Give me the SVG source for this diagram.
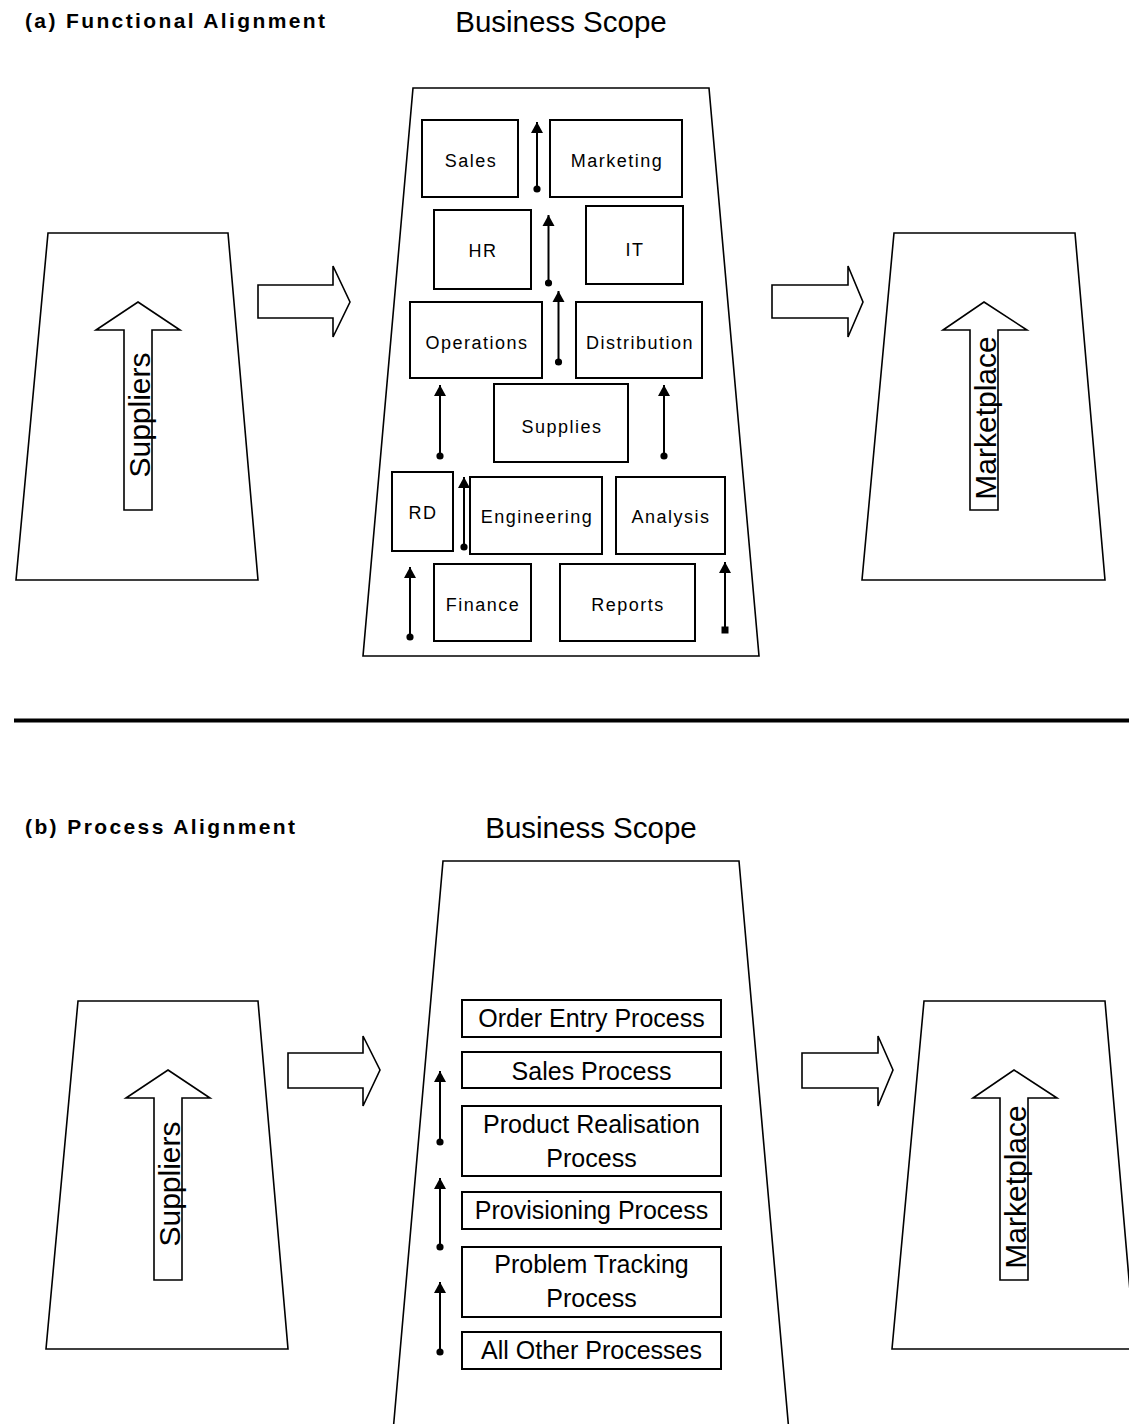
<svg xmlns="http://www.w3.org/2000/svg" width="1129" height="1424" viewBox="0 0 1129 1424">
<defs>
<style>
.bg{fill:#fff}
.shape{fill:#fff;stroke:#000;stroke-width:1.6;stroke-linejoin:miter}
.box{fill:#fff;stroke:#000;stroke-width:2}
.hdr{font-family:"Liberation Sans",Arial,sans-serif;font-weight:bold;font-size:21px;fill:#000}
.scope{font-family:"Liberation Sans",Arial,sans-serif;font-size:29.5px;fill:#000;text-anchor:middle}
.vert{font-family:"Liberation Sans",Arial,sans-serif;font-size:30px;fill:#000;text-anchor:middle}
.lbl{font-family:"Liberation Sans",Arial,sans-serif;font-size:18px;letter-spacing:1.5px;fill:#000;text-anchor:middle}
.plbl{font-family:"Liberation Sans",Arial,sans-serif;font-size:25px;fill:#000;text-anchor:middle}
.conn{stroke:#000;stroke-width:2;fill:none;marker-end:url(#head);marker-start:url(#dot)}
.conn.sq{marker-start:url(#sq)}
</style>
<marker id="head" markerUnits="userSpaceOnUse" markerWidth="12" markerHeight="13" refX="11" refY="6" orient="auto" viewBox="0 0 12 12">
<path d="M0,0 L11,6 L0,12 Z" fill="#000"/>
</marker>
<marker id="dot" markerUnits="userSpaceOnUse" markerWidth="8" markerHeight="8" refX="4" refY="4" orient="auto" viewBox="0 0 8 8">
<circle cx="4" cy="4" r="3.6" fill="#000"/>
</marker>
<marker id="sq" markerUnits="userSpaceOnUse" markerWidth="8" markerHeight="8" refX="4" refY="4" orient="auto" viewBox="0 0 8 8">
<rect x="0.5" y="0.5" width="7" height="7" fill="#000"/>
</marker>
</defs>
<rect class="bg" x="0" y="0" width="1129" height="1424"/>

<!-- (a) Functional Alignment -->
<g id="title-a">
<text class="hdr" x="25" y="28" textLength="300" lengthAdjust="spacing">(a) Functional Alignment</text>
<text class="scope" x="561" y="32">Business Scope</text>
</g>

<g id="suppliers-a">
<polygon class="shape" points="48,233 228,233 258,580 16,580"/>
<polygon class="shape" points="138,302 180,330 152,330 152,510 124,510 124,330 96,330"/>
<text class="vert" transform="translate(150,415) rotate(-90)">Suppliers</text>
</g>

<g id="flow-a1">
<polygon class="shape" points="258,285 333,285 333,266 350,302 333,337 333,318 258,318"/>
</g>

<g id="scope-a">
<polygon class="shape" points="413,88 709,88 759,656 363,656"/>
</g>

<g id="n-sales"><rect class="box" x="422" y="120" width="96" height="77"/><text class="lbl" x="471" y="167">Sales</text></g>
<g id="n-marketing"><rect class="box" x="550" y="120" width="132" height="77"/><text class="lbl" x="617" y="167">Marketing</text></g>
<g id="n-hr"><rect class="box" x="434" y="210" width="97" height="79"/><text class="lbl" x="483" y="257" letter-spacing="3">HR</text></g>
<g id="n-it"><rect class="box" x="586" y="206" width="97" height="78"/><text class="lbl" x="635" y="256">IT</text></g>
<g id="n-operations"><rect class="box" x="410" y="302" width="132" height="76"/><text class="lbl" x="477" y="349">Operations</text></g>
<g id="n-distribution"><rect class="box" x="576" y="302" width="126" height="76"/><text class="lbl" x="640" y="349">Distribution</text></g>
<g id="n-supplies"><rect class="box" x="494" y="384" width="134" height="78"/><text class="lbl" x="562" y="433">Supplies</text></g>
<g id="n-rd"><rect class="box" x="392" y="472" width="61" height="79"/><text class="lbl" x="423" y="519" letter-spacing="3">RD</text></g>
<g id="n-engineering"><rect class="box" x="470" y="477" width="132" height="77"/><text class="lbl" x="537" y="523">Engineering</text></g>
<g id="n-analysis"><rect class="box" x="616" y="477" width="109" height="77"/><text class="lbl" x="671" y="523">Analysis</text></g>
<g id="n-finance"><rect class="box" x="434" y="564" width="97" height="77"/><text class="lbl" x="483" y="611">Finance</text></g>
<g id="n-reports"><rect class="box" x="560" y="564" width="135" height="77"/><text class="lbl" x="628" y="611">Reports</text></g>

<g id="flow-a2">
<polygon class="shape" points="772,285 848,285 848,266 863,302 848,337 848,318 772,318"/>
</g>

<g id="marketplace-a">
<polygon class="shape" points="894,233 1075,233 1105,580 862,580"/>
<polygon class="shape" points="984,302 1027,330 998,330 998,510 970,510 970,330 943,330"/>
<text class="vert" transform="translate(996,418) rotate(-90)">Marketplace</text>
</g>

<g id="divider">
<line x1="14" y1="720.5" x2="1129" y2="720.5" stroke="#000" stroke-width="4"/>
</g>

<!-- (b) Process Alignment -->
<g id="title-b">
<text class="hdr" x="25" y="834" textLength="270" lengthAdjust="spacing">(b) Process Alignment</text>
<text class="scope" x="591" y="838">Business Scope</text>
</g>

<g id="suppliers-b">
<polygon class="shape" points="78,1001 258,1001 288,1349 46,1349"/>
<polygon class="shape" points="168,1070 210,1098 182,1098 182,1280 154,1280 154,1098 126,1098"/>
<text class="vert" transform="translate(180,1184) rotate(-90)">Suppliers</text>
</g>

<g id="flow-b1">
<polygon class="shape" points="288,1053 363,1053 363,1036 380,1070 363,1106 363,1088 288,1088"/>
</g>

<g id="scope-b">
<polygon class="shape" points="443,861 739,861 789,1432 393,1432"/>
</g>

<g id="p-order"><rect class="box" x="462" y="1000" width="259" height="37"/><text class="plbl" x="591.5" y="1027">Order Entry Process</text></g>
<g id="p-sales"><rect class="box" x="462" y="1052" width="259" height="36"/><text class="plbl" x="591.5" y="1080">Sales Process</text></g>
<g id="p-product"><rect class="box" x="462" y="1106" width="259" height="70"/><text class="plbl" x="591.5" y="1133">Product Realisation</text><text class="plbl" x="591.5" y="1167">Process</text></g>
<g id="p-provisioning"><rect class="box" x="462" y="1192" width="259" height="37"/><text class="plbl" x="591.5" y="1219">Provisioning Process</text></g>
<g id="p-problem"><rect class="box" x="462" y="1247" width="259" height="70"/><text class="plbl" x="591.5" y="1273">Problem Tracking</text><text class="plbl" x="591.5" y="1307">Process</text></g>
<g id="p-other"><rect class="box" x="462" y="1332" width="259" height="37"/><text class="plbl" x="591.5" y="1359">All Other Processes</text></g>

<g id="flow-b2">
<polygon class="shape" points="802,1053 878,1053 878,1036 893,1070 878,1106 878,1088 802,1088"/>
</g>

<g id="marketplace-b">
<polygon class="shape" points="924,1001 1105,1001 1135,1349 892,1349"/>
<polygon class="shape" points="1014,1070 1057,1098 1028,1098 1028,1280 1000,1280 1000,1098 973,1098"/>
<text class="vert" transform="translate(1026,1187) rotate(-90)">Marketplace</text>
</g>

<g id="connectors">
<line class="conn" x1="537" y1="189" x2="537" y2="122"/>
<line class="conn" x1="548.5" y1="283" x2="548.5" y2="215"/>
<line class="conn" x1="558.5" y1="362" x2="558.5" y2="291"/>
<line class="conn" x1="440" y1="456" x2="440" y2="385"/>
<line class="conn" x1="664" y1="456" x2="664" y2="385"/>
<line class="conn" x1="464" y1="547" x2="464" y2="477"/>
<line class="conn" x1="410" y1="637" x2="410" y2="567"/>
<line class="conn sq" x1="725" y1="630" x2="725" y2="562"/>
<line class="conn" x1="440" y1="1142" x2="440" y2="1071"/>
<line class="conn" x1="440" y1="1247" x2="440" y2="1178"/>
<line class="conn" x1="440" y1="1352" x2="440" y2="1282"/>
</g>
</svg>
